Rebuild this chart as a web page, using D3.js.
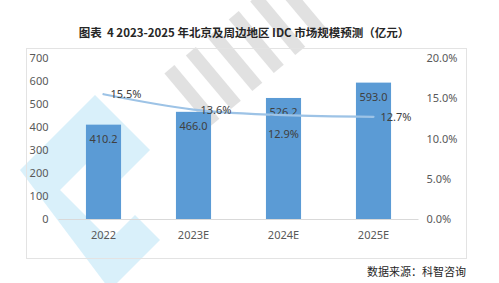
<!DOCTYPE html>
<html>
<head>
<meta charset="utf-8">
<script src="https://cdn.jsdelivr.net/npm/d3@7"></script>
<style>
  body { margin: 0; background: #fff; }
  svg { display: block; font-family: "Noto Sans CJK SC", "Noto Sans", sans-serif; }
</style>
</head>
<body>
<svg id="chart" width="499" height="283"></svg>
<script>
// Chart data
const years = ['2022', '2023E', '2024E', '2025E'];
const marketSize = [410.2, 466.0, 526.2, 593.0];   // 亿元
const growthRate = [15.5, 13.6, 12.9, 12.7];       // %
const leftTicks = [0, 100, 200, 300, 400, 500, 600, 700];
const rightTicks = [0, 5, 10, 15, 20];
// where each growth label sits relative to its point
const rateLabelPos = ['right', 'right', 'below', 'right'];

const svg = d3.select('#chart');

// Plot area
const plot = { left: 58.5, right: 418.5, top: 58, bottom: 219 };

const x = d3.scaleBand()
    .domain(years)
    .range([plot.left, plot.right])
    .paddingInner(0.61)
    .paddingOuter(0.305);

const yLeft = d3.scaleLinear().domain([0, 700]).range([plot.bottom, plot.top]);
const yRight = d3.scaleLinear().domain([0, 20]).range([plot.bottom, plot.top]);

// Faint watermark in the background
const wm = svg.append('g');
wm.append('path')
    .attr('d', 'M20,170 L95,95 L150,150 L120,180 L95,155 L60,190 L110,240 L135,215 L160,240 L110,290 Z')
    .attr('fill', '#bfe6f7')
    .attr('opacity', 0.6);
wm.append('g')
    .attr('transform', 'translate(245,45) rotate(-40)')
    .attr('opacity', 0.25)
    .selectAll('rect')
    .data(d3.range(6))
    .join('rect')
    .attr('x', d => -80 + d * 28)
    .attr('y', -30)
    .attr('width', 13)
    .attr('height', 70)
    .attr('fill', '#8a8a8a');

// Frame
svg.append('rect')
    .attr('x', 26.5).attr('y', 48.5)
    .attr('width', 440).attr('height', 210)
    .attr('fill', 'none')
    .attr('stroke', '#e3e3e3');

// Title
svg.append('text')
    .attr('x', 244).attr('y', 37)
    .attr('text-anchor', 'middle')
    .attr('font-size', 11.5)
    .attr('font-weight', 'bold')
    .attr('fill', '#262626')
    .style('white-space', 'pre')
    .text('图表  4 2023-2025 年北京及周边地区 IDC 市场规模预测（亿元）');

// Left axis
const leftAxis = svg.append('g')
    .attr('transform', `translate(${plot.left - 10},0)`)
    .call(d3.axisLeft(yLeft).tickValues(leftTicks).tickSize(0).tickPadding(0));
leftAxis.select('.domain').remove();
leftAxis.selectAll('text')
    .attr('font-size', 11)
    .attr('fill', '#595959')
    .attr('font-family', '"Noto Sans", sans-serif');

// Right axis
const rightAxis = svg.append('g')
    .attr('transform', `translate(${plot.right + 8},0)`)
    .call(d3.axisRight(yRight).tickValues(rightTicks).tickSize(0).tickPadding(0)
        .tickFormat(d => d.toFixed(1) + '%'));
rightAxis.select('.domain').remove();
rightAxis.selectAll('text')
    .attr('font-size', 11)
    .attr('fill', '#595959')
    .attr('font-family', '"Noto Sans", sans-serif');

// Bars
svg.append('g')
    .selectAll('rect')
    .data(years)
    .join('rect')
    .attr('x', d => x(d))
    .attr('y', (d, i) => yLeft(marketSize[i]))
    .attr('width', x.bandwidth())
    .attr('height', (d, i) => plot.bottom - yLeft(marketSize[i]))
    .attr('fill', '#5b9bd5');

// Baseline
svg.append('line')
    .attr('x1', plot.left).attr('x2', plot.right)
    .attr('y1', plot.bottom + 0.5).attr('y2', plot.bottom + 0.5)
    .attr('stroke', '#d9d9d9');

// Category labels
svg.append('g')
    .selectAll('text')
    .data(years)
    .join('text')
    .attr('x', d => x(d) + x.bandwidth() / 2)
    .attr('y', 239)
    .attr('text-anchor', 'middle')
    .attr('font-size', 11)
    .attr('fill', '#595959')
    .attr('font-family', '"Noto Sans", sans-serif')
    .text(d => d);

// Bar value labels
svg.append('g')
    .selectAll('text')
    .data(years)
    .join('text')
    .attr('x', d => x(d) + x.bandwidth() / 2)
    .attr('y', (d, i) => yLeft(marketSize[i]) + 18)
    .attr('text-anchor', 'middle')
    .attr('font-size', 11)
    .attr('fill', '#404040')
    .attr('font-family', '"Noto Sans", sans-serif')
    .text((d, i) => marketSize[i].toFixed(1));

// Growth line
const line = d3.line()
    .x(d => x(d) + x.bandwidth() / 2)
    .y((d, i) => yRight(growthRate[i]))
    .curve(d3.curveMonotoneX);

svg.append('path')
    .datum(years)
    .attr('d', line)
    .attr('fill', 'none')
    .attr('stroke', '#9dc3e6')
    .attr('stroke-width', 2.25)
    .attr('stroke-linecap', 'round');

// Growth labels
svg.append('g')
    .selectAll('text')
    .data(years)
    .join('text')
    .attr('x', (d, i) => x(d) + x.bandwidth() / 2 + (rateLabelPos[i] === 'right' ? 7 : 0))
    .attr('y', (d, i) => yRight(growthRate[i]) + (rateLabelPos[i] === 'right' ? 4 : 23))
    .attr('text-anchor', (d, i) => rateLabelPos[i] === 'right' ? 'start' : 'middle')
    .attr('font-size', 11)
    .attr('fill', '#404040')
    .attr('font-family', '"Noto Sans", sans-serif')
    .text((d, i) => growthRate[i].toFixed(1) + '%');

// Source
svg.append('text')
    .attr('x', 466).attr('y', 276)
    .attr('text-anchor', 'end')
    .attr('font-size', 11)
    .attr('fill', '#262626')
    .text('数据来源：科智咨询');
</script>
</body>
</html>
